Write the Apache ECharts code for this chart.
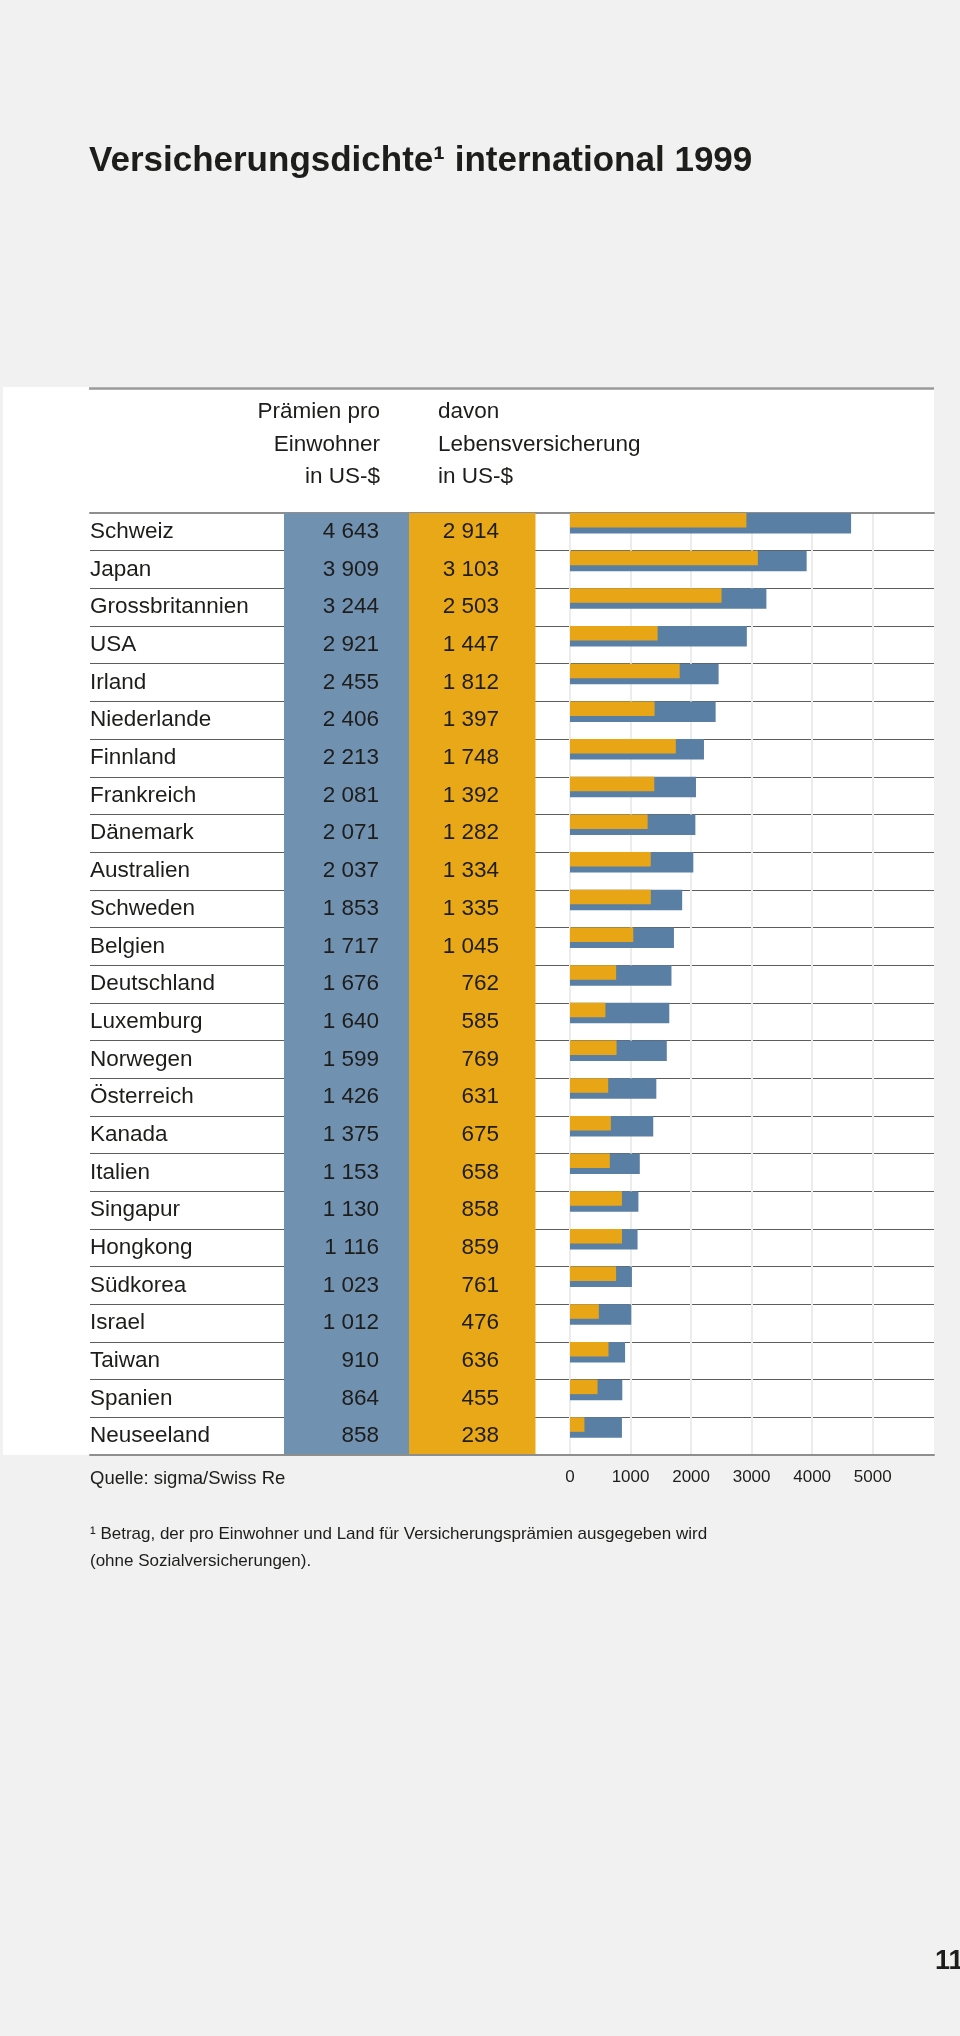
<!DOCTYPE html>
<html>
<head>
<meta charset="utf-8">
<script src="https://cdn.jsdelivr.net/npm/echarts@6/dist/echarts.min.js"></script>
<style>
html,body{margin:0;padding:0;background:#f0f1f0;}
#chart{width:960px;height:2036px;}
</style>
</head>
<body>
<div id="chart"></div>
<script>
// ---- data ----
const countries = ['Schweiz','Japan','Grossbritannien','USA','Irland','Niederlande','Finnland','Frankreich','Dänemark','Australien','Schweden','Belgien','Deutschland','Luxemburg','Norwegen','Österreich','Kanada','Italien','Singapur','Hongkong','Südkorea','Israel','Taiwan','Spanien','Neuseeland'];
const premiums = [4643,3909,3244,2921,2455,2406,2213,2081,2071,2037,1853,1717,1676,1640,1599,1426,1375,1153,1130,1116,1023,1012,910,864,858];
const lifePremiums = [2914,3103,2503,1447,1812,1397,1748,1392,1282,1334,1335,1045,762,585,769,631,675,658,858,859,761,476,636,455,238];
const axisMin = 0;
const axisMax = 5000;
const axisStep = 1000;

const titleText = 'Versicherungsdichte\u00B9 international 1999';
const headerPremium = 'Prämien pro\nEinwohner\nin US-$';
const headerLife = 'davon\nLebensversicherung\nin US-$';
const sourceText = 'Quelle: sigma/Swiss Re';
const footnoteText = '\u00B9 Betrag, der pro Einwohner und Land für Versicherungsprämien ausgegeben wird\n(ohne Sozialversicherungen).';
const pageNumber = '11';

// ---- layout ----
const FONT = '"Liberation Sans", Arial, sans-serif';
const INK = '#1d1d1b';
const TOP = 513;
const ROWH = 37.68;
const N = countries.length;
const H = ROWH * N;

const fmt = v => v >= 1000 ? Math.floor(v / 1000) + ' ' + String(v % 1000).padStart(3, '0') : String(v);

const chart = echarts.init(document.getElementById('chart'), null, {renderer: 'canvas'});

const hiddenCat = {
  type: 'category', data: countries, inverse: true, position: 'left',
  axisLine: {show: false}, axisTick: {show: false}, splitLine: {show: false}
};

const headerStyle = {fontFamily: FONT, fontSize: 22.5, lineHeight: 32.5, fill: INK, verticalAlign: 'top'};

const option = {
  backgroundColor: '#f0f1f0',
  animation: false,
  textStyle: {fontFamily: FONT, color: INK},
  title: [
    {text: titleText, left: 89, top: 141, padding: 0,
     textStyle: {fontFamily: FONT, fontSize: 35, fontWeight: 'bold', lineHeight: 40, color: INK}},
    {text: sourceText, left: 90, top: 1468, padding: 0,
     textStyle: {fontFamily: FONT, fontSize: 18.5, fontWeight: 'normal', lineHeight: 22, color: INK}},
    {text: footnoteText, left: 90, top: 1520, padding: 0,
     textStyle: {fontFamily: FONT, fontSize: 17, fontWeight: 'normal', lineHeight: 27.7, color: INK}},
    {text: pageNumber, left: 935, top: 1948, padding: 0,
     textStyle: {fontFamily: FONT, fontSize: 27, fontWeight: 'bold', lineHeight: 28, color: INK}}
  ],
  graphic: [
    {type: 'rect', z: -10, silent: true, shape: {x: 3, y: 387, width: 931, height: 1068}, style: {fill: '#ffffff'}},
    {type: 'line', z: 1, silent: true, shape: {x1: 89, y1: 388.5, x2: 934, y2: 388.5}, style: {stroke: '#9a9a9a', lineWidth: 2.5}},
    {type: 'text', z: 1, silent: true, x: 380, y: 396,
     style: Object.assign({text: headerPremium, align: 'right'}, headerStyle)},
    {type: 'text', z: 1, silent: true, x: 438, y: 396,
     style: Object.assign({text: headerLife, align: 'left'}, headerStyle)},
    {type: 'rect', z: 5, silent: true, shape: {x: 284, y: TOP, width: 125, height: H - 1}, style: {fill: '#7191b1'}},
    {type: 'rect', z: 5, silent: true, shape: {x: 409, y: TOP, width: 126.5, height: H - 1}, style: {fill: '#e9a818'}}
  ],
  grid: [
    {left: 570, top: TOP, width: 302.7, height: H},
    {left: 90, top: TOP, width: 844, height: H}
  ],
  xAxis: [
    {gridIndex: 0, type: 'value', min: axisMin, max: axisMax, interval: axisStep, position: 'bottom',
     axisLine: {show: false}, axisTick: {show: false},
     splitLine: {show: true, lineStyle: {color: '#ececec', width: 2}},
     axisLabel: {margin: 14, fontSize: 17, color: INK, fontFamily: FONT, formatter: v => String(v)}},
    {gridIndex: 1, type: 'value', position: 'bottom',
     axisLine: {show: true, onZero: false, lineStyle: {color: '#8e8e8e', width: 2}},
     axisTick: {show: false}, axisLabel: {show: false}, splitLine: {show: false}},
    {gridIndex: 1, type: 'value', position: 'top',
     axisLine: {show: true, onZero: false, lineStyle: {color: '#8e8e8e', width: 2}},
     axisTick: {show: false}, axisLabel: {show: false}, splitLine: {show: false}}
  ],
  yAxis: [
    Object.assign({}, hiddenCat, {gridIndex: 0,
      axisLabel: {interval: 0, align: 'left', margin: 480, fontSize: 22.5, color: INK, fontFamily: FONT, padding: [6, 0, 0, 0]}}),
    Object.assign({}, hiddenCat, {gridIndex: 0, z: 10,
      axisLabel: {interval: 0, align: 'right', margin: 191, fontSize: 22.5, color: INK, fontFamily: FONT, padding: [6, 0, 0, 0],
                  formatter: (v, i) => fmt(premiums[i])}}),
    Object.assign({}, hiddenCat, {gridIndex: 0, z: 10,
      axisLabel: {interval: 0, align: 'right', margin: 71, fontSize: 22.5, color: INK, fontFamily: FONT, padding: [6, 0, 0, 0],
                  formatter: (v, i) => fmt(lifePremiums[i])}}),
    Object.assign({}, hiddenCat, {gridIndex: 1,
      axisLabel: {show: false},
      splitLine: {show: true, interval: 0, lineStyle: {color: '#5c5c5c', width: 1.2}}})
  ],
  series: [
    {type: 'bar', name: 'Prämien pro Einwohner', xAxisIndex: 0, yAxisIndex: 0, data: premiums,
     barWidth: 20.5, barGap: '-100%', itemStyle: {color: '#5a7fa4'}, silent: true},
    {type: 'bar', name: 'davon Lebensversicherung', xAxisIndex: 0, yAxisIndex: 0, data: lifePremiums,
     barWidth: 14.5, barGap: '-100%', itemStyle: {color: '#e8a617'}, silent: true},
    {type: 'bar', name: 'row', xAxisIndex: 0, yAxisIndex: 0, data: [],
     barWidth: '100%', barGap: '-100%', silent: true}
  ]
};
chart.setOption(option);
</script>
</body>
</html>
